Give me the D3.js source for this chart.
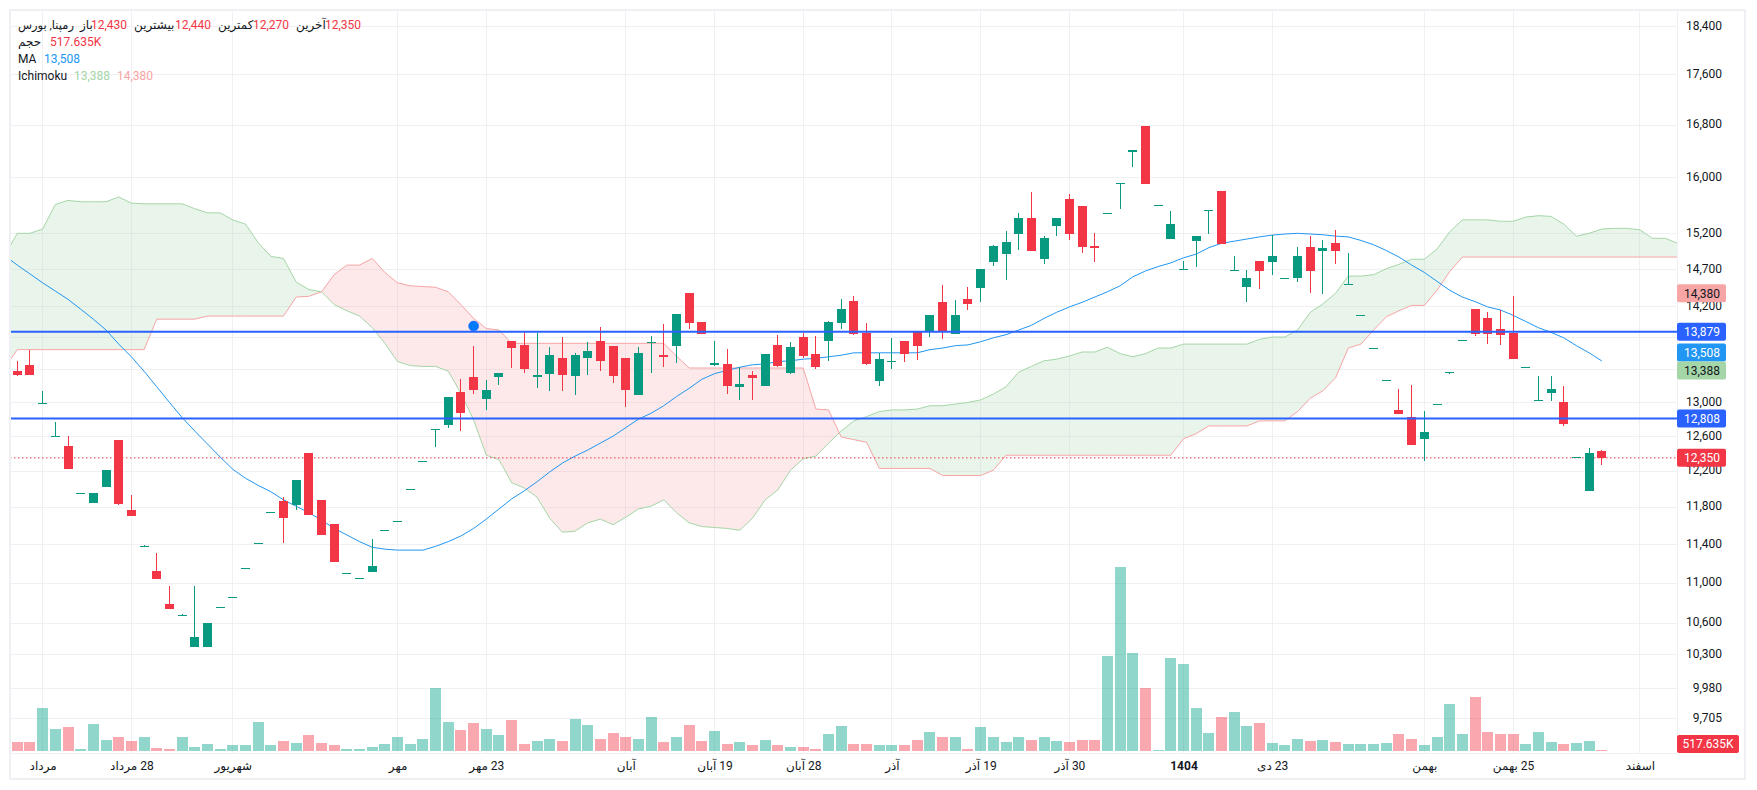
<!DOCTYPE html>
<html><head><meta charset="utf-8">
<script src="https://cdn.jsdelivr.net/npm/d3@7"></script>
<style>
html,body{margin:0;padding:0;background:#fff;overflow:hidden}
text{font-family:Roboto,"Noto Sans","DejaVu Sans",sans-serif}
</style></head><body><svg id="c" width="1757" height="790"></svg>
<script>
const opens=[13380,13460,12990,12600,12490,11950,11840,12020,12560,11770,11380,11120,10790,10680,10370,10370,10760,10860,11150,11420,11750,11870,11820,12410,11880,11620,11100,11050,11110,11550,11650,12000,12320,12680,12730,13130,13310,13040,13310,13760,13710,13310,13350,13550,13320,13550,13760,13700,13550,13090,13750,13580,13700,14380,14000,13460,13470,13190,13330,13200,13710,13360,13810,13600,13760,13990,14280,13860,13260,13510,13760,13870,13870,14260,13850,14300,14450,14800,14910,15190,15420,14840,15300,15690,15590,15020,15490,15930,16380,16780,15600,15120,14710,15090,15530,15810,14690,14460,14820,14800,14580,14580,15010,14950,15060,14510,14090,13670,13270,12910,12830,12570,12980,13370,13770,14170,14060,13910,13860,13430,13030,13110,13000,12360,11980,12430];
const highs=[13510,13650,13140,12770,12600,11950,11960,12210,12560,11930,11390,11310,10970,10690,10970,10600,10760,10860,11150,11420,11750,11910,12100,12410,11880,11620,11100,11050,11460,11550,11650,12000,12320,12680,13060,13280,13700,13270,13360,13760,13870,13860,13680,13810,13610,13750,13940,13700,13550,13680,13820,13980,14110,14380,14000,13760,13660,13430,13380,13600,13830,13750,13860,13820,14020,14300,14340,13990,13610,13800,13760,13870,14090,14490,14290,14470,14700,15040,15230,15490,15790,15160,15420,15770,15590,15200,15490,15930,16420,16780,15600,15520,14820,15160,15530,15810,14890,14690,14820,15180,14580,15010,15160,15110,15250,14930,14090,13670,13270,13160,13210,12900,12980,13370,13770,14170,14130,14160,14340,13430,13320,13320,13200,12360,12460,12440];
const lows=[13320,13330,12990,12600,12220,11950,11840,12020,11820,11700,11380,11040,10740,10680,10370,10370,10760,10860,11150,11420,11750,11420,11770,11710,11500,11220,11100,11050,11110,11550,11650,12000,12320,12470,12700,12660,13100,12910,13210,13420,13360,13180,13140,13140,13090,13330,13380,13240,12940,13090,13360,13430,13480,13910,13850,13440,13100,13030,13030,13200,13430,13350,13550,13410,13510,13910,13840,13460,13200,13410,13490,13520,13810,13780,13850,14160,14260,14750,14560,14970,14950,14770,15160,15110,14930,14800,15490,15550,16160,15910,15600,15120,14710,14730,15190,15050,14690,14260,14440,14620,14580,14530,14380,14370,14770,14510,14090,13670,13270,12860,12500,12320,12980,13350,13770,13820,13720,13710,13530,13430,13030,13020,12720,12360,11980,12270];
const closes=[13330,13330,12990,12600,12220,11950,11960,12210,11830,11700,11380,11040,10740,10680,10460,10600,10760,10860,11150,11420,11750,11680,12100,11710,11500,11220,11100,11050,11180,11550,11650,12000,12320,12680,13060,12870,13150,13150,13360,13670,13410,13330,13580,13330,13580,13630,13510,13320,13150,13610,13750,13560,14110,13990,13850,13480,13200,13220,13300,13600,13440,13680,13570,13430,14000,14170,13850,13470,13530,13510,13600,13700,14090,13890,14090,14240,14700,15020,15080,15420,14950,15130,15420,15190,15010,14990,15490,15930,16420,15910,15600,15330,14710,15160,15530,15050,14690,14580,14680,14890,14580,14890,14680,14990,14950,14510,14090,13670,13270,12860,12500,12650,12980,13370,13770,13850,13850,13840,13530,13430,13030,13160,12740,12360,12410,12350];
const volumesM=[3.8,3.8,18.2,9.6,10.1,1.0,11.5,4.8,6.2,4.3,5.8,1.4,1.0,5.8,1.9,2.9,1.0,2.4,2.4,12.5,2.4,4.3,3.4,6.7,3.4,2.4,0.7,1.0,1.9,2.9,6.2,2.9,5.3,26.9,12.5,9.1,12.0,9.6,6.7,13.4,2.9,4.3,5.3,4.3,13.9,11.0,5.3,7.7,6.2,5.3,14.4,3.8,5.8,11.0,4.3,8.6,2.9,3.8,2.4,4.8,2.4,1.9,1.9,1.0,7.2,10.6,2.9,2.9,2.4,2.4,2.4,4.8,8.2,5.8,5.8,1.0,10.1,5.8,3.8,6.2,4.8,5.8,4.3,3.8,4.8,4.8,40.8,78.7,41.8,26.9,0.5,39.8,37.0,18.2,7.7,14.4,16.8,10.6,12.0,3.4,2.4,5.3,4.3,4.8,3.8,2.9,2.9,2.9,3.4,7.2,5.3,2.4,6.2,20.2,7.2,23.0,8.2,7.2,7.2,2.9,8.2,3.8,2.9,3.4,4.3,0.52];
// cloud and MA, index -1 onward
const spanA=[14890,15200,15200,15260,15610,15670,15650,15650,15650,15720,15630,15620,15620,15620,15620,15550,15490,15490,15390,15330,15070,14880,14850,14530,14430,14400,14230,14150,14080,13930,13730,13500,13450,13440,13440,13380,13110,12790,12380,12330,12070,12010,11910,11680,11530,11540,11630,11670,11610,11690,11780,11810,11880,11740,11630,11590,11580,11570,11550,11680,11880,11990,12210,12340,12370,12520,12660,12780,12830,12890,12910,12910,12920,12960,12960,12980,13000,13030,13100,13190,13370,13440,13510,13530,13570,13620,13620,13680,13600,13560,13600,13670,13670,13720,13720,13720,13720,13720,13720,13780,13810,13810,13900,14130,14240,14380,14610,14610,14630,14710,14770,14840,14840,14980,15220,15390,15390,15390,15370,15370,15430,15450,15440,15330,15160,15200,15260,15270,15270,15250,15130,15130,15060];
const spanB=[13420,13650,13650,13650,13650,13650,13650,13650,13650,13650,13650,13650,14040,14040,14040,14040,14080,14080,14080,14080,14080,14080,14080,14330,14340,14400,14630,14760,14760,14850,14660,14520,14480,14470,14460,14400,14230,14050,13920,13900,13730,13730,13730,13730,13730,13730,13730,13730,13730,13730,13730,13730,13730,13570,13420,13420,13420,13420,13420,13420,13420,13420,13420,13420,12920,12910,12590,12560,12530,12230,12230,12230,12230,12230,12150,12150,12150,12150,12210,12380,12380,12380,12380,12380,12380,12380,12380,12380,12380,12380,12380,12380,12380,12570,12630,12720,12720,12720,12720,12780,12780,12780,12890,13050,13140,13300,13670,13720,13900,14070,14150,14220,14220,14420,14670,14870,14870,14870,14870,14870,14870,14870,14870,14870,14870,14870,14870,14870,14870,14870,14870,14870,14870];
const maValues=[14890,14760,14640,14520,14410,14300,14170,14040,13900,13720,13560,13380,13190,13000,12820,12660,12510,12360,12220,12120,12040,11970,11880,11810,11740,11660,11570,11500,11430,11370,11350,11340,11340,11340,11380,11430,11490,11570,11670,11780,11890,11980,12080,12190,12290,12370,12440,12520,12600,12700,12800,12870,12960,13070,13170,13280,13350,13390,13430,13460,13470,13500,13510,13530,13540,13560,13580,13610,13610,13610,13610,13610,13610,13650,13670,13700,13710,13750,13800,13840,13900,13960,14050,14130,14200,14260,14330,14400,14480,14600,14680,14740,14790,14860,14910,15000,15060,15090,15120,15150,15175,15190,15200,15190,15180,15160,15150,15100,15040,14960,14870,14760,14660,14540,14420,14330,14270,14200,14160,14090,14010,13930,13870,13800,13700,13610,13508];
const gridPrices=[18400,17600,16800,16000,15200,14700,14200,13800,13400,13000,12600,12200,11800,11400,11000,10600,10300,9980,9705];
const priceTickLabels=[18400,17600,16800,16000,15200,14700,14200,13000,12600,12200,11800,11400,11000,10600,10300,9980,9705];
const timeTickIndex=[2,9,17,30,37,48,55,62,69,76,83,92,99,111,118,128];
const timeTickLabels=["مرداد","28 مرداد","شهریور","مهر","23 مهر","آبان","19 آبان","28 آبان","آذر","19 آذر","30 آذر","1404","23 دی","بهمن","25 بهمن","اسفند"];
const hLines=[13879,12808];
const markerPrice=13950, markerIndex=36;
const lastClose=12350, maLast=13508, ichiA=13388, ichiB=14380;

const UP="#0aa38c",CANDLE_UP="#089981",DOWN="#F23645",MA="#2196F3",LINE="#2962FF",GRID="#f0f0f3";
const plotL=10,plotR=1677,plotT=10,plotB=753;
const svg=d3.select("#c");
svg.append("rect").attr("width",1757).attr("height",790).attr("fill","#fff");
const x=d3.scaleLinear().domain([0,125]).range([17.3,1601.8]);
const y=d3.scaleLog().domain([18400,9980]).range([26.7,688.3]);
const v=d3.scaleLinear().domain([0,78.7]).range([751,567]);
svg.append("defs").append("clipPath").attr("id","plot").append("rect")
  .attr("x",plotL).attr("y",plotT).attr("width",plotR-plotL).attr("height",plotB-plotT);

// grid
const g=svg.append("g").attr("shape-rendering","crispEdges");
g.selectAll(".h").data(gridPrices).join("line").attr("x1",plotL).attr("x2",plotR)
  .attr("y1",d=>Math.floor(y(d))+.5).attr("y2",d=>Math.floor(y(d))+.5).attr("stroke",GRID);
g.selectAll(".v").data(timeTickIndex).join("line").attr("y1",plotT).attr("y2",plotB)
  .attr("x1",d=>Math.floor(x(d))+.5).attr("x2",d=>Math.floor(x(d))+.5).attr("stroke",GRID);

const plot=svg.append("g").attr("clip-path","url(#plot)");
// cloud
const cx=(d,i)=>x(i-1);
const between=d3.area().x(cx).y0((d,i)=>y(spanB[i])).y1(d=>y(d));
const defs=svg.select("defs");
defs.append("clipPath").attr("id","aboveB").append("path")
  .attr("d",d3.area().x(cx).y0(0).y1(d=>y(d))(spanB));
defs.append("clipPath").attr("id","belowB").append("path")
  .attr("d",d3.area().x(cx).y0(790).y1(d=>y(d))(spanB));
plot.append("path").attr("d",between(spanA)).attr("fill","#A5D6A7").attr("fill-opacity",.24).attr("clip-path","url(#aboveB)");
plot.append("path").attr("d",between(spanA)).attr("fill","#F7A5A5").attr("fill-opacity",.24).attr("clip-path","url(#belowB)");
const ln=d3.line().x(cx).y(d=>y(d));
plot.append("path").attr("d",ln(spanA)).attr("fill","none").attr("stroke","#A5D6A7").attr("stroke-width",1);
plot.append("path").attr("d",ln(spanB)).attr("fill","none").attr("stroke","#F7A5A5").attr("stroke-width",1);

// volume
const up=opens.map((o,i)=>closes[i]>=o);
plot.append("g").attr("shape-rendering","crispEdges").selectAll("rect").data(volumesM).join("rect")
  .attr("x",(d,i)=>Math.floor(x(i))-5.5).attr("width",11.5)
  .attr("y",d=>v(d)).attr("height",d=>v(0)-v(d))
  .attr("fill",(d,i)=>up[i]?UP:DOWN).attr("fill-opacity",(d,i)=>up[i]?.45:.43);

// MA
plot.append("path").attr("d",d3.line().x(cx).y(d=>y(d))(maValues)).attr("fill","none").attr("stroke",MA).attr("stroke-width",1);

// last price dotted
plot.append("line").attr("x1",plotL).attr("x2",plotR).attr("y1",y(lastClose)).attr("y2",y(lastClose))
  .attr("stroke",DOWN).attr("stroke-dasharray","1.5 2.5").attr("stroke-width",1);

// candles
const cs=plot.append("g").attr("shape-rendering","crispEdges");
cs.selectAll(".w").data(opens).join("rect").attr("x",(d,i)=>Math.floor(x(i))).attr("width",1)
  .attr("y",(d,i)=>y(highs[i])).attr("height",(d,i)=>Math.max(0,y(lows[i])-y(highs[i])))
  .attr("fill",(d,i)=>up[i]?CANDLE_UP:DOWN);
cs.selectAll(".b").data(opens).join("rect").attr("x",(d,i)=>Math.floor(x(i))-4).attr("width",9)
  .attr("y",(d,i)=>y(Math.max(d,closes[i]))).attr("height",(d,i)=>Math.max(1,y(Math.min(d,closes[i]))-y(Math.max(d,closes[i]))))
  .attr("fill",(d,i)=>up[i]?CANDLE_UP:DOWN);

// horizontal lines
plot.selectAll(".hl").data(hLines).join("line").attr("x1",plotL).attr("x2",plotR)
  .attr("y1",d=>y(d)).attr("y2",d=>y(d)).attr("stroke",LINE).attr("stroke-width",2);
plot.append("circle").attr("cx",x(markerIndex)).attr("cy",y(markerPrice)).attr("r",5)
  .attr("fill","#007AFF").attr("stroke","#2962FF").attr("stroke-opacity",.6).attr("stroke-width",1);

// frame
svg.append("rect").attr("x",10).attr("y",10).attr("width",1735).attr("height",769)
  .attr("fill","none").attr("stroke","#eef0f4").attr("stroke-width",2);
svg.append("line").attr("x1",plotL).attr("x2",plotR).attr("y1",plotB+.5).attr("y2",plotB+.5).attr("stroke","#eef0f4");
svg.append("line").attr("x1",plotR+.5).attr("x2",plotR+.5).attr("y1",plotT).attr("y2",plotB).attr("stroke","#eef0f4");

// axes
const ay=d3.axisRight(y).tickValues(priceTickLabels).tickFormat(d3.format(",")).tickSize(0);
const gy=svg.append("g").attr("transform",`translate(${plotR},-1)`).call(ay);
gy.select(".domain").remove();
gy.selectAll("text").attr("x",45).attr("text-anchor","end").attr("font-size",12).attr("fill","#131722").style("font-family","Roboto");
const ax=d3.axisBottom(x).tickValues(timeTickIndex).tickFormat((d,i)=>timeTickLabels[i]).tickSize(0);
const gx=svg.append("g").attr("transform",`translate(0,${plotB})`).call(ax);
gx.select(".domain").remove();
gx.selectAll("text").attr("y",8).attr("font-size",12).attr("fill","#131722").style("direction","rtl")
  .attr("font-weight",(d,i)=>timeTickLabels[i]==="1404"?700:400).style("font-family",'Roboto,"DejaVu Sans"');

// tags
const tags=[[ichiB,"#F7A5A5","#131722"],[hLines[0],LINE,"#fff"],[maLast,MA,"#fff"],[ichiA,"#A5D6A7","#131722"],[hLines[1],LINE,"#fff"],[lastClose,DOWN,"#fff"]];
const tagOffset={[maLast]:-8.5};
tags.forEach(([p,bg,fg])=>{
  const c=y(p)+(tagOffset[p]||0);
  svg.append("rect").attr("x",plotR).attr("y",c-9).attr("width",49).attr("height",18).attr("rx",2).attr("fill",bg);
  svg.append("text").attr("x",plotR+25).attr("y",c+4.3).attr("text-anchor","middle").attr("font-size",12).attr("fill",fg).text(d3.format(",")(p));
});
svg.append("rect").attr("x",plotR).attr("y",735).attr("width",62).attr("height",18).attr("rx",2).attr("fill",DOWN);
svg.append("text").attr("x",plotR+31).attr("y",748.3).attr("text-anchor","middle").attr("font-size",12).attr("fill","#fff").text("517.635K");

// legend
const DARK="#131722";
const legend=[
 [18,29,"رمپنا, بورس",DARK,11.5],[80,29,"باز",DARK,12],[91,29,"12,430",DOWN,12],
 [134,29,"بیشترین",DARK,12],[175,29,"12,440",DOWN,12],[218,29,"کمترین",DARK,12],[253,29,"12,270",DOWN,12],
 [296,29,"آخرین",DARK,12],[325,29,"12,350",DOWN,12],
 [18,46,"حجم",DARK,12],[50,46,"517.635K",DOWN,12],
 [18,63,"MA",DARK,12],[44,63,"13,508",MA,12],
 [18,80,"Ichimoku",DARK,12],[74,80,"13,388","#A5D6A7",12],[117,80,"14,380","#F7A5A5",12]];
svg.append("g").selectAll("text").data(legend).join("text")
  .attr("x",d=>d[0]).attr("y",d=>d[1]).attr("font-size",d=>d[4]).attr("fill",d=>d[3]).text(d=>d[2]);
</script></body></html>
